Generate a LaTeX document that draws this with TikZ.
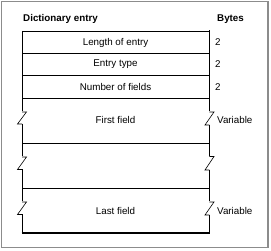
\documentclass[tikz,border=0pt]{standalone}
\usepackage{fontspec}
\setmainfont{Liberation Sans}
\begin{document}
\begin{tikzpicture}[x=1pt,y=-1pt,
  frame/.style={draw=black!45,line width=1.3pt},
  rowline/.style={draw=black,line width=0.9pt},
  sideL/.style={draw=black,line width=0.9pt},
  sideR/.style={draw=black,line width=1.6pt},
  zz/.style={draw=black,line width=0.6pt},
  lbl/.style={font=\fontsize{9.8}{11}\selectfont,inner sep=0pt},
  hdr/.style={font=\fontsize{9.8}{11}\selectfont\bfseries,inner sep=0pt},
  num/.style={font=\fontsize{9.8}{11}\selectfont,inner sep=0pt,anchor=west}]
\useasboundingbox (0,0) rectangle (271,251);
\fill[white] (0,0) rectangle (271,251);
\draw[frame] (1.5,1.5) rectangle (268,247.5);
% headers
\node[hdr,anchor=west] (hd) at (23,19) {Dictionary entry};
\node[hdr,anchor=west] (hb) at (217,19) {Bytes};
% horizontal lines
\draw[rowline] (22,31) -- (209.8,31);
\draw[rowline] (22,53) -- (209,53);
\draw[rowline] (22,75.5) -- (209,75.5);
\draw[rowline] (22,98.5) -- (209,98.5);
\draw[rowline] (22,143.5) -- (209,143.5);
\draw[rowline] (22,188.5) -- (209,188.5);
\draw[line width=1.6pt] (21.6,233) -- (209.8,233);
% left side with breaks
\draw[sideL] (22,31) -- (22,111.5);
\draw[zz] (22,112) -- (26.5,112) -- (17.5,124) -- (22,124);
\draw[sideL] (22,124) -- (22,156.5);
\draw[zz] (22,157) -- (26.5,157) -- (17.5,169.5) -- (22,169.5);
\draw[sideL] (22,169.5) -- (22,201.5);
\draw[zz] (22,202) -- (26.5,202) -- (17.5,214.5) -- (22,214.5);
\draw[sideL] (22,214.5) -- (22,233);
% right side with breaks
\draw[sideR] (209.3,30.5) -- (209.3,111.5);
\draw[zz] (209.3,112) -- (214,112) -- (205,125) -- (209.3,125);
\draw[sideR] (209.3,125) -- (209.3,156);
\draw[zz] (209.3,156.5) -- (214,156.5) -- (205,170) -- (209.3,170);
\draw[sideR] (209.3,170) -- (209.3,201.5);
\draw[zz] (209.3,202) -- (214,202) -- (205,215) -- (209.3,215);
\draw[sideR] (209.3,215) -- (209.3,233.5);
% labels
\node[lbl] (l1) at (115.5,42.5) {Length of entry};
\node[lbl] (l2) at (115.5,64.5) {Entry type};
\node[lbl] (l3) at (115.5,87) {Number of fields};
\node[lbl] (l4) at (115.5,119.5) {First field};
\node[lbl] (l5) at (115.5,210.5) {Last field};
\node[num] (n1) at (215,42.5) {2};
\node[num] (n2) at (215,64.5) {2};
\node[num] (n3) at (215,87) {2};
\node[num] (n4) at (217,119.5) {Variable};
\node[num] (n5) at (217,210.5) {Variable};
\end{tikzpicture}
\end{document}
